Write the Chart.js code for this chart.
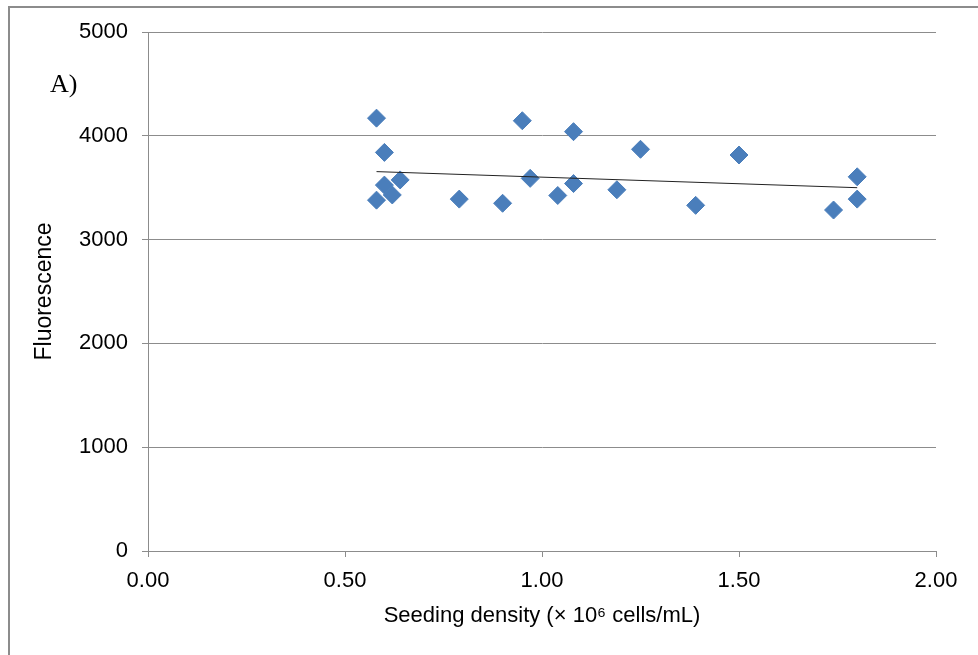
<!DOCTYPE html>
<html>
<head>
<meta charset="utf-8">
<script src="https://cdn.jsdelivr.net/npm/chart.js@4"></script>
<style>
  html, body { margin: 0; padding: 0; background: #fff; }
  #wrap { position: absolute; left: 0; top: 0; width: 978px; height: 655px; }
  #frame { position: absolute; left: 8px; top: 6px; right: 0; bottom: 0; border-top: 2px solid #8c8c8c; border-left: 2px solid #8c8c8c; }
  #panel { position: absolute; left: 50px; top: 69px; font-family: 'Liberation Serif', 'Times New Roman', serif; font-size: 26px; color: #000; }
</style>
</head>
<body>
<div id="wrap">
  <div id="frame"></div>
  <canvas id="chart-seeding" width="978" height="655"></canvas>
  <div id="panel">A)</div>
</div>
<script>
// values
const seedingDensity = [0.58, 0.60, 0.60, 0.62, 0.58, 0.64, 0.79, 0.90, 0.95, 0.97, 1.04, 1.08, 1.08, 1.19, 1.25, 1.39, 1.50, 1.74, 1.80, 1.80];
const fluorescence = [4170, 3840, 3525, 3430, 3380, 3575, 3390, 3350, 4145, 3590, 3425, 4040, 3540, 3480, 3870, 3330, 3815, 3285, 3605, 3390];
const trendX = [0.58, 1.80];
const trendY = [3655, 3500];
const xTicks = [0, 0.5, 1, 1.5, 2];
const yTicks = [0, 1000, 2000, 3000, 4000, 5000];

Chart.defaults.font.family = "'Liberation Sans', Arial, sans-serif";
Chart.defaults.font.size = 22;
Chart.defaults.color = '#000';

const axisGrey = '#8c8c8c';

new Chart(document.getElementById('chart-seeding'), {
  type: 'scatter',
  data: {
    datasets: [
      {
        label: 'Trend',
        type: 'line',
        data: trendX.map((x, i) => ({ x, y: trendY[i] })),
        borderColor: '#222',
        borderWidth: 1,
        pointRadius: 0,
        fill: false,
        order: 0
      },
      {
        label: 'Fluorescence',
        data: seedingDensity.map((x, i) => ({ x, y: fluorescence[i] })),
        pointStyle: 'rectRot',
        pointRadius: 9,
        backgroundColor: '#4a7ebb',
        borderColor: '#4a7ebb',
        borderWidth: 1,
        order: 1
      }
    ]
  },
  options: {
    responsive: false,
    animation: false,
    layout: { padding: { top: 32, right: 42, left: 0, bottom: 0 } },
    plugins: { legend: { display: false }, tooltip: { enabled: false } },
    scales: {
      x: {
        type: 'linear',
        min: 0,
        max: 2,
        afterBuildTicks: (s) => { s.ticks = xTicks.map((v) => ({ value: v })); },
        afterFit: (s) => { s.height = 104; },
        ticks: { padding: 11, callback: (v) => Number(v).toFixed(2) },
        grid: { drawOnChartArea: false, drawTicks: true, tickLength: 6, color: axisGrey },
        border: { color: axisGrey },
        title: { display: true, text: 'Seeding density (× 10⁶ cells/mL)', padding: { top: 0, bottom: 26 } }
      },
      y: {
        min: 0,
        max: 5000,
        afterBuildTicks: (s) => { s.ticks = yTicks.map((v) => ({ value: v })); },
        afterFit: (s) => { s.width = 148; },
        ticks: { padding: 14, callback: (v) => String(v) },
        grid: { color: axisGrey, tickLength: 6 },
        border: { color: axisGrey },
        title: { display: true, text: 'Fluorescence', font: { size: 23 }, padding: { top: 31, bottom: 0 } }
      }
    }
  }
});
</script>
</body>
</html>
